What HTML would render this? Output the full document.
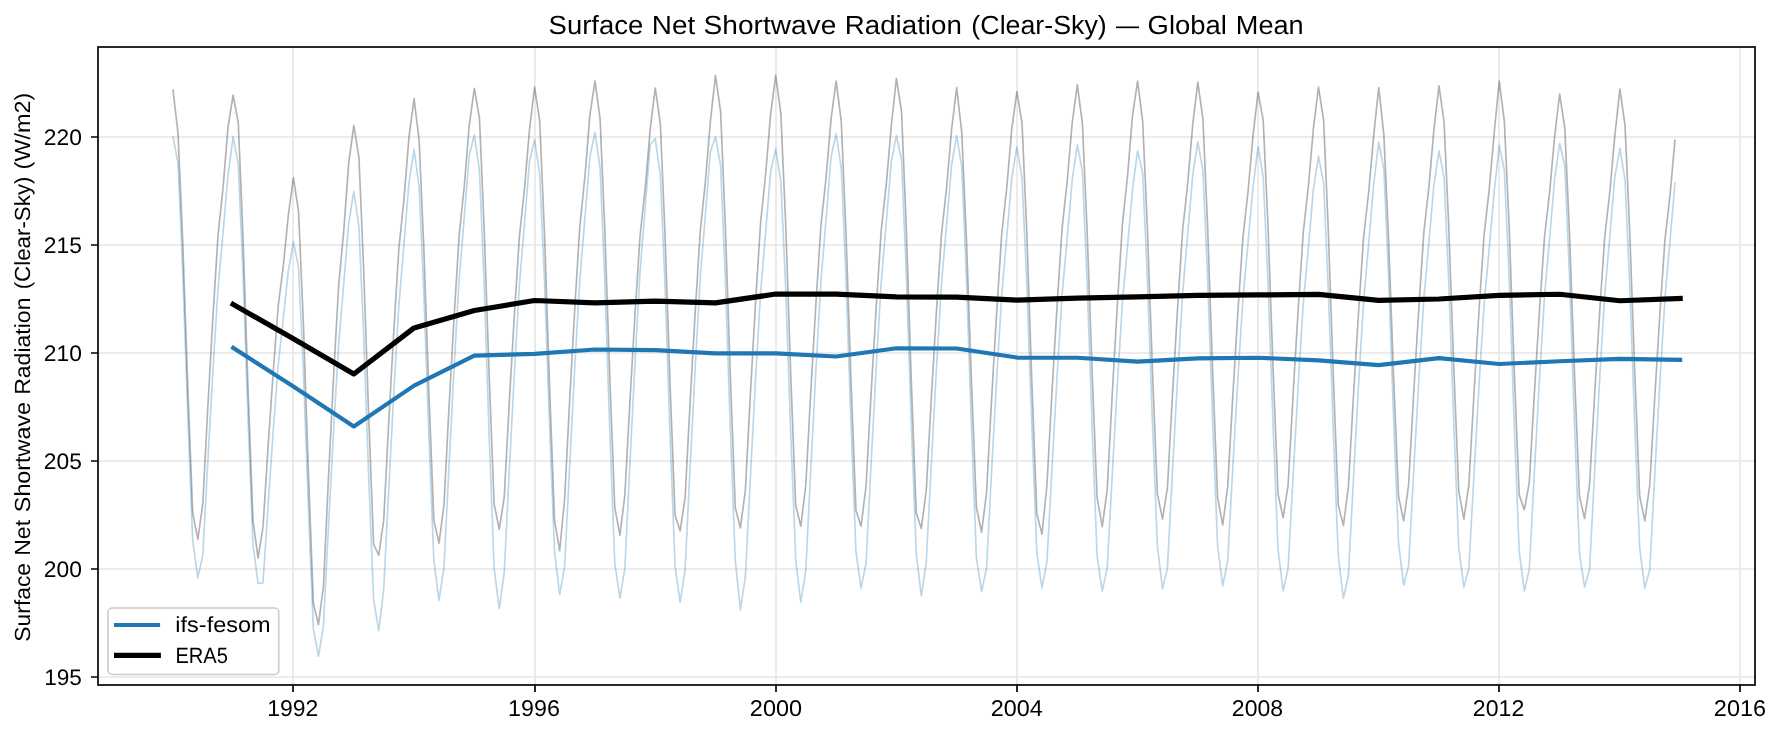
<!DOCTYPE html>
<html><head><meta charset="utf-8"><style>
html,body{margin:0;padding:0;background:#fff;width:1781px;height:735px;overflow:hidden;}
svg{display:block;}
text{font-family:"Liberation Sans", sans-serif;fill:#000;text-rendering:geometricPrecision;}
</style></head><body>
<svg width="1781" height="735" viewBox="0 0 1781 735">
<rect x="0" y="0" width="1781" height="735" fill="#fff"/>
<defs><clipPath id="ax"><rect x="98.0" y="47.0" width="1657.0" height="638.0"/></clipPath></defs>
<path d="M293.00 47.0 V685.0 M535.00 47.0 V685.0 M776.00 47.0 V685.0 M1017.00 47.0 V685.0 M1258.00 47.0 V685.0 M1499.00 47.0 V685.0 M1740.00 47.0 V685.0 M98.0 677.00 H1755.0 M98.0 569.00 H1755.0 M98.0 461.00 H1755.0 M98.0 353.00 H1755.0 M98.0 245.00 H1755.0 M98.0 137.00 H1755.0" stroke="#b0b0b0" stroke-opacity="0.3" stroke-width="1.667" fill="none" clip-path="url(#ax)"/>
<g clip-path="url(#ax)" fill="none" stroke-linejoin="round" stroke-linecap="butt">
<path d="M172.90 136.14 L178.02 163.14 L182.64 268.79 L187.76 414.83 L192.71 540.49 L197.82 577.86 L202.78 555.61 L207.89 460.51 L213.01 369.22 L217.96 289.34 L223.08 232.29 L228.03 175.23 L233.15 136.57 L238.27 164.22 L242.89 270.66 L248.01 417.78 L252.96 544.38 L258.08 583.26 L263.03 582.82 L268.14 504.90 L273.26 430.10 L278.21 364.64 L283.33 317.89 L288.28 271.14 L293.40 241.54 L298.52 267.46 L303.30 368.59 L308.42 508.35 L313.37 628.62 L318.49 656.26 L323.44 626.02 L328.56 525.37 L333.68 428.74 L338.63 344.19 L343.75 283.79 L348.70 223.40 L353.82 191.43 L358.93 227.07 L363.55 331.40 L368.67 475.60 L373.62 599.67 L378.74 630.56 L383.69 589.52 L388.81 487.84 L393.93 390.22 L398.88 304.81 L404.00 243.80 L408.95 182.79 L414.07 149.53 L419.18 187.54 L423.80 291.99 L428.92 436.36 L433.87 560.58 L438.99 600.32 L443.94 568.14 L449.06 465.05 L454.18 366.09 L459.13 279.50 L464.25 217.64 L469.20 155.79 L474.32 134.84 L479.43 170.48 L484.06 281.82 L489.17 435.72 L494.12 568.14 L499.24 608.53 L504.19 573.10 L509.31 470.29 L514.43 371.58 L519.38 285.22 L524.50 223.53 L529.45 161.84 L534.57 139.81 L539.68 174.15 L544.47 279.87 L549.59 425.99 L554.54 551.72 L559.66 594.70 L564.61 566.84 L569.73 464.35 L574.84 365.96 L579.80 279.86 L584.91 218.37 L589.86 156.87 L594.98 132.46 L600.10 168.10 L604.72 278.72 L609.84 431.61 L614.79 563.17 L619.91 598.38 L624.86 568.14 L629.98 462.30 L635.09 360.69 L640.05 271.78 L645.16 208.28 L650.12 144.78 L655.23 138.51 L660.35 175.23 L664.97 284.58 L670.09 435.71 L675.04 565.76 L680.16 602.26 L685.11 569.43 L690.23 465.05 L695.34 364.84 L700.30 277.16 L705.41 214.53 L710.37 151.90 L715.48 136.57 L720.60 165.51 L725.22 276.13 L730.34 429.02 L735.29 560.58 L740.41 609.61 L745.36 576.99 L750.48 475.63 L755.59 378.33 L760.55 293.19 L765.66 232.37 L770.62 171.56 L775.73 148.88 L780.85 181.50 L785.64 287.34 L790.75 433.62 L795.71 559.50 L800.82 602.26 L805.78 570.73 L810.89 467.26 L816.01 367.94 L820.96 281.03 L826.08 218.95 L831.03 156.87 L836.15 133.76 L841.27 168.10 L845.89 275.52 L851.01 423.98 L855.96 551.72 L861.07 588.22 L866.03 563.17 L871.14 462.84 L876.26 366.52 L881.21 282.24 L886.33 222.04 L891.28 161.84 L896.40 135.70 L901.52 159.46 L906.14 269.66 L911.26 421.96 L916.21 553.02 L921.32 596.00 L926.28 561.87 L931.39 462.78 L936.51 367.66 L941.46 284.42 L946.58 224.97 L951.53 165.51 L956.65 135.70 L961.77 166.81 L966.39 276.40 L971.51 427.87 L976.46 558.20 L981.58 591.46 L986.53 568.14 L991.64 470.56 L996.76 376.88 L1001.71 294.92 L1006.83 236.37 L1011.78 177.82 L1016.90 147.15 L1022.02 177.82 L1026.80 282.88 L1031.92 428.08 L1036.87 553.02 L1041.99 587.79 L1046.94 561.87 L1052.06 466.45 L1057.18 374.85 L1062.13 294.70 L1067.25 237.45 L1072.20 180.20 L1077.32 144.78 L1082.43 171.56 L1087.05 279.46 L1092.17 428.58 L1097.12 556.90 L1102.24 590.82 L1107.19 568.14 L1112.31 473.58 L1117.43 382.81 L1122.38 303.38 L1127.50 246.65 L1132.45 189.92 L1137.57 150.82 L1142.68 172.86 L1147.30 277.18 L1152.42 421.38 L1157.37 545.46 L1162.49 588.87 L1167.44 568.14 L1172.56 469.91 L1177.68 375.61 L1182.63 293.10 L1187.75 234.17 L1192.70 175.23 L1197.82 141.75 L1202.93 170.48 L1207.56 275.84 L1212.67 421.45 L1217.62 546.75 L1222.74 585.85 L1227.69 560.58 L1232.81 467.32 L1237.93 377.79 L1242.88 299.45 L1248.00 243.50 L1252.95 187.54 L1258.07 146.72 L1263.18 176.53 L1267.97 280.92 L1273.09 425.20 L1278.04 549.34 L1283.16 590.82 L1288.11 568.14 L1293.23 473.58 L1298.34 382.81 L1303.30 303.38 L1308.41 246.65 L1313.36 189.92 L1318.48 156.22 L1323.60 182.79 L1328.22 287.18 L1333.34 431.46 L1338.29 555.61 L1343.41 598.38 L1348.36 575.70 L1353.48 478.06 L1358.59 384.34 L1363.55 302.33 L1368.66 243.75 L1373.62 185.17 L1378.73 142.18 L1383.85 169.18 L1388.47 273.87 L1393.59 418.57 L1398.54 543.08 L1403.66 585.20 L1408.61 565.76 L1413.73 470.61 L1418.84 379.27 L1423.80 299.35 L1428.91 242.26 L1433.87 185.17 L1438.98 150.82 L1444.10 177.82 L1448.72 281.49 L1453.84 424.76 L1458.79 548.05 L1463.91 587.14 L1468.86 568.14 L1473.98 474.23 L1479.09 384.08 L1484.05 305.20 L1489.16 248.86 L1494.12 192.51 L1499.23 145.42 L1504.35 170.48 L1509.14 277.23 L1514.25 424.77 L1519.21 551.72 L1524.32 590.82 L1529.28 569.43 L1534.39 472.12 L1539.51 378.71 L1544.46 296.97 L1549.58 238.58 L1554.53 180.20 L1559.65 143.48 L1564.77 165.51 L1569.39 274.01 L1574.51 423.98 L1579.46 553.02 L1584.57 587.14 L1589.53 569.43 L1594.64 471.37 L1599.76 377.23 L1604.71 294.85 L1609.83 236.01 L1614.78 177.18 L1619.90 148.45 L1625.02 180.20 L1629.64 283.20 L1634.76 425.55 L1639.71 548.05 L1644.82 588.22 L1649.78 569.43 L1654.89 472.61 L1660.01 379.66 L1664.96 298.33 L1670.08 240.24 L1675.03 182.14" stroke="#1f77b4" stroke-opacity="0.3" stroke-width="1.667"/>
<path d="M172.90 89.05 L178.02 133.11 L182.64 239.44 L187.76 386.39 L192.71 512.84 L197.82 539.41 L202.78 503.98 L207.89 405.93 L213.01 315.42 L217.96 236.22 L223.08 187.19 L228.03 126.85 L233.15 95.10 L238.27 122.74 L242.89 234.09 L248.01 387.98 L252.96 520.40 L258.08 558.20 L263.03 526.66 L268.14 445.85 L273.26 371.25 L278.21 305.98 L283.33 265.57 L288.28 215.84 L293.40 177.82 L298.52 211.09 L303.30 320.92 L308.42 472.72 L313.37 603.34 L318.49 624.73 L323.44 585.85 L328.56 476.00 L333.68 374.60 L338.63 285.88 L343.75 230.95 L348.70 163.35 L353.82 125.34 L358.93 157.74 L363.55 266.00 L368.67 415.62 L373.62 544.38 L378.74 555.18 L383.69 520.40 L388.81 420.83 L393.93 328.92 L398.88 248.49 L404.00 198.71 L408.95 137.43 L414.07 98.55 L419.18 141.10 L423.80 247.31 L428.92 394.09 L433.87 520.40 L438.99 543.08 L443.94 505.28 L449.06 406.61 L454.18 315.52 L459.13 235.83 L464.25 186.49 L469.20 125.77 L474.32 88.40 L479.43 117.78 L484.06 225.91 L489.17 375.38 L494.12 503.98 L499.24 529.26 L504.19 497.72 L509.31 402.14 L514.43 313.90 L519.38 236.70 L524.50 188.91 L529.45 130.09 L534.57 87.10 L539.68 120.80 L544.47 232.69 L549.59 387.33 L554.54 520.40 L559.66 550.64 L564.61 499.02 L569.73 399.28 L574.84 307.21 L579.80 226.65 L584.91 176.78 L589.86 115.40 L594.98 81.06 L600.10 119.07 L604.72 227.88 L609.84 378.26 L614.79 507.66 L619.91 535.09 L624.86 495.13 L629.98 400.22 L635.09 312.61 L640.05 235.95 L645.16 188.49 L650.12 130.09 L655.23 87.97 L660.35 123.82 L664.97 233.41 L670.09 384.88 L675.04 515.22 L680.16 530.98 L685.11 497.72 L690.23 399.89 L695.34 309.58 L700.30 230.57 L705.41 181.65 L710.37 121.45 L715.48 75.44 L720.60 111.51 L725.22 222.43 L730.34 375.74 L735.29 507.66 L740.41 527.96 L745.36 490.16 L750.48 392.39 L755.59 302.13 L760.55 223.16 L765.66 174.27 L770.62 114.10 L775.73 75.44 L780.85 113.67 L785.64 223.32 L790.75 374.87 L795.71 505.28 L800.82 526.23 L805.78 484.98 L810.89 389.84 L816.01 302.02 L820.96 225.18 L826.08 177.62 L831.03 119.07 L836.15 81.06 L841.27 121.45 L845.89 230.31 L851.01 380.78 L855.96 510.25 L861.07 526.23 L866.03 486.27 L871.14 392.65 L876.26 306.24 L881.21 230.62 L886.33 183.81 L891.28 126.20 L896.40 78.46 L901.52 111.51 L906.14 223.88 L911.26 379.20 L916.21 512.84 L921.32 528.39 L926.28 490.16 L931.39 396.54 L936.51 310.12 L941.46 234.51 L946.58 187.70 L951.53 130.09 L956.65 87.54 L961.77 132.46 L966.39 237.52 L971.51 382.72 L976.46 507.66 L981.58 532.28 L986.53 492.75 L991.64 398.12 L996.76 310.77 L1001.71 234.34 L1006.83 187.03 L1011.78 128.79 L1016.90 91.64 L1022.02 122.74 L1026.80 232.27 L1031.92 383.66 L1036.87 513.92 L1041.99 534.22 L1046.94 484.98 L1052.06 390.80 L1057.18 303.86 L1062.13 227.79 L1067.25 180.70 L1072.20 122.74 L1077.32 84.73 L1082.43 123.82 L1087.05 228.51 L1092.17 373.21 L1097.12 497.72 L1102.24 526.66 L1107.19 490.16 L1112.31 393.00 L1117.43 303.32 L1122.38 224.85 L1127.50 176.27 L1132.45 116.48 L1137.57 81.06 L1142.68 121.45 L1147.30 225.72 L1152.42 369.83 L1157.37 493.83 L1162.49 519.10 L1167.44 487.57 L1172.56 393.33 L1177.68 306.34 L1182.63 230.23 L1187.75 183.11 L1192.70 125.12 L1197.82 82.14 L1202.93 119.07 L1207.56 225.09 L1212.67 371.63 L1217.62 497.72 L1222.74 524.94 L1227.69 486.92 L1232.81 395.72 L1237.93 311.53 L1242.88 237.86 L1248.00 192.26 L1252.95 136.14 L1258.07 92.07 L1263.18 120.15 L1267.97 224.78 L1273.09 369.40 L1278.04 493.83 L1283.16 517.81 L1288.11 484.76 L1293.23 392.21 L1298.34 306.78 L1303.30 232.02 L1308.41 185.75 L1313.36 128.79 L1318.48 87.10 L1323.60 120.15 L1328.22 227.99 L1333.34 377.03 L1338.29 505.28 L1343.41 525.37 L1348.36 486.92 L1353.48 395.72 L1358.59 311.53 L1363.55 237.86 L1368.66 192.26 L1373.62 136.14 L1378.73 87.54 L1383.85 134.84 L1388.47 236.08 L1393.59 376.02 L1398.54 496.42 L1403.66 520.83 L1408.61 484.76 L1413.73 392.55 L1418.84 307.42 L1423.80 232.94 L1428.91 186.84 L1433.87 130.09 L1438.98 85.81 L1444.10 122.74 L1448.72 225.98 L1453.84 368.67 L1458.79 491.46 L1463.91 519.10 L1468.86 484.76 L1473.98 393.50 L1479.09 309.26 L1484.05 235.55 L1489.16 189.92 L1494.12 133.76 L1499.23 81.06 L1504.35 121.45 L1509.14 226.08 L1514.25 370.69 L1519.21 495.13 L1524.32 509.82 L1529.28 482.60 L1534.39 392.86 L1539.51 310.02 L1544.46 237.53 L1549.58 192.66 L1554.53 137.43 L1559.65 94.02 L1564.77 127.50 L1569.39 230.80 L1574.51 373.57 L1579.46 496.42 L1584.57 518.46 L1589.53 484.76 L1594.64 394.12 L1599.76 310.45 L1604.71 237.24 L1609.83 191.92 L1614.78 136.14 L1619.90 89.05 L1625.02 125.12 L1629.64 229.09 L1634.76 372.78 L1639.71 496.42 L1644.82 520.83 L1649.78 484.76 L1654.89 394.96 L1660.01 312.07 L1664.96 239.54 L1670.08 194.64 L1675.03 139.38" stroke="#000" stroke-opacity="0.3" stroke-width="1.667"/>
<path d="M233.15 347.82 L293.40 386.48 L353.82 426.44 L414.07 385.62 L474.32 355.59 L534.57 353.86 L594.98 349.54 L655.23 350.19 L715.48 353.43 L775.73 353.43 L836.15 356.46 L896.40 348.25 L956.65 348.46 L1016.90 357.54 L1077.32 357.75 L1137.57 361.64 L1197.82 358.40 L1258.07 357.75 L1318.48 360.34 L1378.73 365.10 L1438.98 358.18 L1499.23 364.02 L1559.65 361.21 L1619.90 358.83 L1680.15 359.91" stroke="#1f77b4" stroke-width="4.17" stroke-linecap="square"/>
<path d="M233.15 304.40 L293.40 338.74 L353.82 373.95 L414.07 327.94 L474.32 310.45 L534.57 300.51 L594.98 302.89 L655.23 301.16 L715.48 302.89 L775.73 294.03 L836.15 294.03 L896.40 296.84 L956.65 297.06 L1016.90 300.08 L1077.32 298.14 L1137.57 296.84 L1197.82 295.33 L1258.07 294.90 L1318.48 294.46 L1378.73 300.30 L1438.98 299.00 L1499.23 295.33 L1559.65 294.25 L1619.90 300.73 L1680.15 298.57" stroke="#000" stroke-width="5.21" stroke-linecap="square"/>
</g>
<rect x="98.0" y="47.0" width="1657.0" height="638.0" fill="none" stroke="#000" stroke-width="1.667" stroke-linejoin="miter"/>
<path d="M293.00 685.0 v7 M535.00 685.0 v7 M776.00 685.0 v7 M1017.00 685.0 v7 M1258.00 685.0 v7 M1499.00 685.0 v7 M1740.00 685.0 v7 M98.0 677.00 h-7 M98.0 569.00 h-7 M98.0 461.00 h-7 M98.0 353.00 h-7 M98.0 245.00 h-7 M98.0 137.00 h-7" stroke="#000" stroke-width="1.667" fill="none"/>
<g style="opacity:0.999">
<text x="267.16" y="716.00" font-size="22.8" textLength="51.09" lengthAdjust="spacingAndGlyphs">1992</text>
<text x="508.13" y="716.00" font-size="22.8" textLength="51.91" lengthAdjust="spacingAndGlyphs">1996</text>
<text x="749.83" y="716.00" font-size="22.8" textLength="52.22" lengthAdjust="spacingAndGlyphs">2000</text>
<text x="990.83" y="716.00" font-size="22.8" textLength="51.98" lengthAdjust="spacingAndGlyphs">2004</text>
<text x="1231.85" y="716.00" font-size="22.8" textLength="51.18" lengthAdjust="spacingAndGlyphs">2008</text>
<text x="1472.84" y="716.00" font-size="22.8" textLength="51.42" lengthAdjust="spacingAndGlyphs">2012</text>
<text x="1713.83" y="716.00" font-size="22.8" textLength="52.22" lengthAdjust="spacingAndGlyphs">2016</text>
<text x="44.19" y="684.70" font-size="22.5" textLength="37.68" lengthAdjust="spacingAndGlyphs">195</text>
<text x="43.86" y="576.70" font-size="22.5" textLength="38.02" lengthAdjust="spacingAndGlyphs">200</text>
<text x="43.86" y="468.70" font-size="22.5" textLength="38.02" lengthAdjust="spacingAndGlyphs">205</text>
<text x="43.86" y="360.70" font-size="22.5" textLength="38.02" lengthAdjust="spacingAndGlyphs">210</text>
<text x="43.86" y="252.70" font-size="22.5" textLength="38.02" lengthAdjust="spacingAndGlyphs">215</text>
<text x="43.86" y="144.70" font-size="22.5" textLength="38.02" lengthAdjust="spacingAndGlyphs">220</text>
<text x="548.63" y="33.60" font-size="26.3" textLength="94.65" lengthAdjust="spacingAndGlyphs">Surface</text>
<text x="651.77" y="33.60" font-size="26.3" textLength="43.41" lengthAdjust="spacingAndGlyphs">Net</text>
<text x="703.60" y="33.60" font-size="26.3" textLength="132.66" lengthAdjust="spacingAndGlyphs">Shortwave</text>
<text x="844.78" y="33.60" font-size="26.3" textLength="117.02" lengthAdjust="spacingAndGlyphs">Radiation</text>
<text x="971.39" y="33.60" font-size="26.3" textLength="135.37" lengthAdjust="spacingAndGlyphs">(Clear-Sky)</text>
<text x="1116.00" y="33.60" font-size="26.3" textLength="23.00" lengthAdjust="spacingAndGlyphs">—</text>
<text x="1147.63" y="33.60" font-size="26.3" textLength="79.31" lengthAdjust="spacingAndGlyphs">Global</text>
<text x="1235.83" y="33.60" font-size="26.3" textLength="67.84" lengthAdjust="spacingAndGlyphs">Mean</text>
<text transform="translate(29.50 700.0) rotate(-90)" x="58.36" y="0" font-size="21.9" textLength="78.70" lengthAdjust="spacingAndGlyphs">Surface</text>
<text transform="translate(29.50 700.0) rotate(-90)" x="144.15" y="0" font-size="21.9" textLength="35.99" lengthAdjust="spacingAndGlyphs">Net</text>
<text transform="translate(29.50 700.0) rotate(-90)" x="187.83" y="0" font-size="21.9" textLength="110.21" lengthAdjust="spacingAndGlyphs">Shortwave</text>
<text transform="translate(29.50 700.0) rotate(-90)" x="305.16" y="0" font-size="21.9" textLength="97.34" lengthAdjust="spacingAndGlyphs">Radiation</text>
<text transform="translate(29.50 700.0) rotate(-90)" x="410.66" y="0" font-size="21.9" textLength="112.81" lengthAdjust="spacingAndGlyphs">(Clear-Sky)</text>
<text transform="translate(29.50 700.0) rotate(-90)" x="530.59" y="0" font-size="21.9" textLength="76.74" lengthAdjust="spacingAndGlyphs">(W/m2)</text>
</g>
<rect x="108.0" y="608.0" width="170.7" height="66.5" rx="4.2" ry="4.2" fill="#fff" fill-opacity="0.8" stroke="#cccccc" stroke-width="1.667"/>
<path d="M116.1 625.0 H158.0" stroke="#1f77b4" stroke-width="4.17" stroke-linecap="square"/>
<path d="M116.6 655.4 H158.3" stroke="#000" stroke-width="5.21" stroke-linecap="square"/>
<g style="opacity:0.999">
<text x="175.36" y="632.00" font-size="21.9" textLength="95.20" lengthAdjust="spacingAndGlyphs">ifs-fesom</text>
<text x="175.39" y="663.00" font-size="22.1" textLength="52.46" lengthAdjust="spacingAndGlyphs">ERA5</text>
</g>
</svg></body></html>
